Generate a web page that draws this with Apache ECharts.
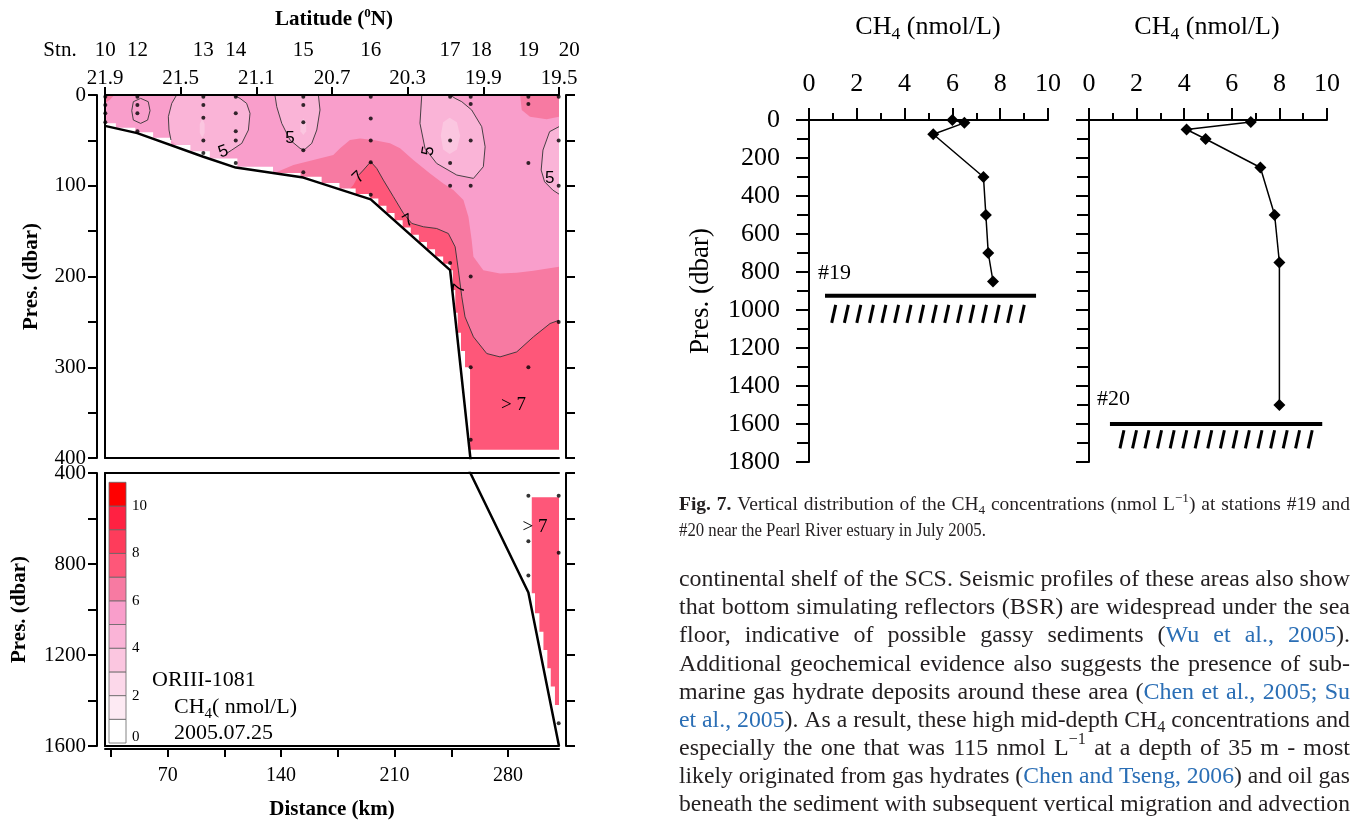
<!DOCTYPE html>
<html><head><meta charset="utf-8">
<script src="https://cdn.jsdelivr.net/npm/echarts@6/dist/echarts.min.js"></script>
<style>html,body{margin:0;padding:0;background:#fff}#c{width:1357px;height:820px}</style>
</head><body><div id="c"></div>
<script>
// ================= DATA =================
// Section (left): distance (km) vs pressure (dbar)
const KM_RANGE = [31.3, 311.5];
const latLabels = ['21.9','21.5','21.1','20.7','20.3','19.9','19.5'];
const stnNames = ['10','12','13','14','15','16','17','18','19','20'];
const stnKm    = [31.5, 51.3, 92, 112, 153.7, 195.3, 244.3, 257, 292.6, 311.3];
const stnDepths = [
  [2,11,20,30],
  [2,11,20,40],
  [2,11,25,50,64],
  [2,20,40,50,75],
  [2,11,30,61,85],
  [2,26,50,74,110],
  [2,50,75,100,185],
  [2,10,50,100,200,300,380],
  [2,10,75,300,500,700,850],
  [2,50,100,250,500,750,1500]
];
const topoKm   = [31.3, 51.2, 92, 112, 153.7, 195.3, 244.3, 256.8, 292.6, 311.5];
const topoPres = [34, 42, 68, 80, 91, 115, 193, 400, 925, 1600];
const distTicks  = [35,70,105,140,175,210,245,280];
const distLabels = [70,140,210,280];

// CH4 colour classes (nmol/L): class i covers [i, i+1)
const levelColors = ['#ffffff','#fdeaf3','#fcd8ea','#fbc6e0','#fab4d7','#f99ecb','#f77aa2','#fe5779','#fe3c5b','#ff2142','#ff0000'];
const colorbarLabels = [0,2,4,6,8,10];

// lower edge of gridded data (staircase) in upper panel
const fillFloor = [[31.3,31],[38,31],[38,36],[50,36],[50,41],[61,41],[61,47],[72,47],[72,55],[84,55],[84,62],[96,62],[96,70],[113,70],[113,79],[135,79],[135,86],[152,86],[152,90],[165,90],[165,97],[176,97],[176,103],[186,103],[186,109],[195,109],[195,114],[200,114],[200,122],[205,122],[205,130],[210,130],[210,138],[215,138],[215,146],[220,146],[220,154],[225,154],[225,162],[230,162],[230,170],[235,170],[235,178],[240,178],[240,186],[244.5,186],[244.5,193],[246,193],[246,215],[247.5,215],[247.5,240],[249,240],[249,262],[251,262],[251,282],[253.5,282],[253.5,300],[256.6,300],[256.6,391],[311.5,391]];

// contour lines (km, dbar)
const c5A_left  = [[75.5,0],[72.5,9.2],[70.4,23.9],[70.8,38.6],[72,49.6]];
const c5A_right = [[110.5,0],[114.6,3.7],[118.7,9.2],[120.8,20.2],[119.8,38.6],[115.7,53.3],[109.5,60.7],[106.4,64.3]];
const c5B = [[136.2,0],[137.3,12.9],[140.4,31.3],[145.5,49.6],[151.7,58.8],[154.1,60.7],[158.9,53.3],[162,38.6],[164,16.5],[163,0]];
const c5C = [[226.8,0],[225.7,31.3],[228.8,58.8],[236,75.4],[248.4,88.2],[258.7,91.9],[264.8,79],[265.9,57],[263.8,34.9],[257.6,16.5],[251.5,7.4],[247.4,3.7],[244.3,0]];
const c5D = [[311.5,34.9],[305.7,40.4],[301.6,60.7],[300.5,82.7],[302.6,95.6],[307.7,104.8],[311.5,109.2]];
const c5E = [[53.3,3.7],[58,7.4],[59.1,17.3],[57.6,27.6],[53.3,31.3],[48.8,27.6],[47.8,17.3],[48.8,7.4],[53.3,3.7]];
const c7Line = [[188,88],[190.8,82.7],[195.3,73.5],[199,80.9],[203.1,93.8],[209.3,112.1],[215.5,130.5],[220.6,141.5],[227.8,145.2],[236,147.1],[243.2,152.6],[247.4,167.3],[249.4,193],[251.5,222.4],[253.5,244.5],[258.7,266.5],[266.9,284.9],[275.1,288.6],[285.4,283.1],[295.7,266.5],[306,251.8],[311.5,248.2]];
const band6Top = [[131,95],[135.2,86.4],[147.6,77.2],[159.9,71.7],[172.2,66.2],[176.4,58.8],[182.5,49.6],[188.7,47.8],[196.9,49.6],[207.2,53.3],[213.4,58.8],[221.6,71.7],[231.9,86.4],[240.1,97.4],[246.3,104.8],[252.5,115.8],[255.6,134.2],[257.6,159.9],[258.7,178.3],[264.8,193],[275.1,196.7],[285.4,196],[295.7,193.8],[311.5,189.3]];
const spot13 = [[91.3,26],[92.8,32],[92.8,42],[91.3,47],[89.8,42],[89.8,32]];
const spot15 = [[153.7,26],[155.5,30],[155.5,40],[153.7,44],[151.9,40],[151.9,30]];
const spot17 = [[244,25],[248.5,30],[250.5,45],[248.5,60],[244,65],[240,60],[238.5,45],[240,30]];
const patch19 = [[287.5,0],[288.5,16.5],[293.6,23.9],[303.9,26.8],[311.5,23.9],[311.5,0]];
const patch10 = [[31.3,0],[37,0],[34.5,5],[31.3,9]];
// lower panel (>7) region
const deepLower = [[294.7,507],[311.5,507],[311.5,1420],[309,1420],[309,1339],[306.4,1339],[306.4,1258],[304.3,1258],[304.3,1178],[301.9,1178],[301.9,1098],[299.4,1098],[299.4,1017],[296.7,1017],[296.7,929],[294.7,929]];

const contourLabelText = ['5','5','5','5','7','7','7'];
const contourLabelKm   = [104.3,145.5,230.9,305.7,187.7,218.5,250.1];
const contourLabelPres = [62.5,47.8,61.8,91.9,90.8,138.6,213.2];
const gtLabelKm   = [283.4, 296.7];
const gtLabelPres = [341.9, 636];

// Profiles (right)
const p19Conc = [6.0, 6.5, 5.2, 7.3, 7.4, 7.5, 7.7];
const p19Pres = [0, 15, 75, 300, 500, 700, 850];
const p20Conc = [6.8, 4.1, 4.9, 7.2, 7.8, 8.0, 8.0];
const p20Pres = [10, 50, 100, 250, 500, 750, 1500];
const seabed19 = {pres: 925, from: 0.67, to: 9.5};
const seabed20 = {pres: 1600, from: 0.88, to: 9.8};
const hatch19 = [0.95,1.48,2.0,2.53,3.05,3.58,4.1,4.63,5.16,5.68,6.21,6.73,7.26,7.79,8.31,8.84];
const hatch20 = [1.3,1.83,2.35,2.88,3.41,3.94,4.46,4.99,5.52,6.05,6.57,7.1,7.63,8.16,8.68,9.21];
const hatch19Pres = [1068, 973];
const hatch20Pres = [1728, 1633];

// Text
const captionLines = [
  '{b|Fig. 7.} Vertical distribution of the CH{sub|4} concentrations (nmol L{sup|−1}) at stations #19 and',
  '#20 near the Pearl River estuary in July 2005.'
];
const paragraphLines = [
  'continental shelf of the SCS. Seismic profiles of these areas also show',
  'that bottom simulating reflectors (BSR) are widespread under the sea',
  'floor, indicative of possible gassy sediments ({a|Wu et al., 2005}).',
  'Additional geochemical evidence also suggests the presence of sub-',
  'marine gas hydrate deposits around these area ({a|Chen et al., 2005; Su}',
  '{a|et al., 2005}). As a result, these high mid-depth CH{sub|4} concentrations and',
  'especially the one that was 115 nmol L{sup|−1} at a depth of 35 m - most',
  'likely originated from gas hydrates ({a|Chen and Tseng, 2006}) and oil gas',
  'beneath the sediment with subsequent vertical migration and advection'
];

// ================= STYLE / BUILD =================
const SERIF = '"Liberation Serif", "Times New Roman", serif';
const SANS = '"Liberation Sans", Arial, sans-serif';
const BLACK = '#000';
const TXT = '#231f20';
const LINK = '#2a6eb5';
const contourLabelRot = [20, 0, 80, 0, 45, 30, 80];
const stnLabelAlign = ['center','center','center','center','center','center','center','left','center','left'];

const zip = (a, b) => a.map((v, i) => [v, b[i]]);

// ---- text layout engine (measure + justify) ----
const mctx = document.createElement('canvas').getContext('2d');
const KS = {
  n:    {w:'normal', f:1,    dy:0},
  b:    {w:'bold',   f:1,    dy:0},
  a:    {w:'normal', f:1,    dy:0, c:LINK},
  sub:  {w:'normal', f:0.68, dy:0.3},
  sup:  {w:'normal', f:0.68, dy:-0.35},
  bsup: {w:'bold',   f:0.62, dy:-0.3}
};
function fontStr(fs, w) { return w + ' ' + fs + 'px ' + SERIF; }
function measure(t, fs, w) { mctx.font = fontStr(fs, w); return mctx.measureText(t).width; }
function parseLine(str) {
  const re = /\{(\w+)\|([^}]*)\}|([^{]+)/g; const segs = []; let m;
  while ((m = re.exec(str))) { if (m[1]) segs.push({k:m[1], t:m[2]}); else segs.push({k:'n', t:m[3]}); }
  const words = []; let cur = [];
  segs.forEach(s => {
    s.t.split(' ').forEach((p, i) => {
      if (i > 0) { if (cur.length) words.push(cur); cur = []; }
      if (p) cur.push({t:p, k:s.k});
    });
  });
  if (cur.length) words.push(cur);
  return words;
}
function textBlock(lines, o) {
  const els = [];
  lines.forEach((line, li) => {
    const words = parseLine(line);
    const pw = words.map(w => w.map(p => { const st = KS[p.k]; return measure(p.t, o.size*st.f, st.w); }));
    const ww = pw.map(a => a.reduce((s, v) => s + v, 0));
    const sum = ww.reduce((s, v) => s + v, 0);
    const sp = measure(' ', o.size, 'normal');
    const natural = sum + sp*(words.length - 1);
    let scale = 1, gap = sp;
    const justify = o.align === 'justify' && !(o.lastLeft && li === lines.length - 1);
    if (o.align !== 'center' && natural > o.width) scale = o.width / natural;
    else if (justify && words.length > 1) gap = (o.width - sum) / (words.length - 1);
    if (o.condense && !justify && o.align !== 'center') scale = Math.min(scale, o.condense);
    let x = o.align === 'center' ? o.x - natural/2 : o.x;
    const y = o.y + li*(o.lh || 0);
    words.forEach((w, wi) => {
      w.forEach((p, pi) => {
        const st = KS[p.k]; const fs = o.size*st.f;
        els.push({type:'text', x:x, y:y + st.dy*o.size, scaleX:scale, silent:true, z:20,
          style:{text:p.t, fontSize:fs, fontFamily:SERIF, fontWeight:st.w, fill:st.c || o.color || TXT,
                 align:'left', verticalAlign:'middle', textAlign:'left', textVerticalAlign:'middle'}});
        x += pw[wi][pi]*scale;
      });
      x += gap*scale;
    });
  });
  return els;
}

// ---- polygons for section ----
const lightA = c5A_left.concat([[85,72],[100,72]], c5A_right.slice().reverse());
const band6 = band6Top.concat([[311.5,400],[131,400]]);
const deep7 = [[178,112],[184.6,99.3]].concat(c7Line, [[311.5,400],[178,400]]);
const baseWater = [[KM_RANGE[0],0],[KM_RANGE[1],0],[KM_RANGE[1],400],[KM_RANGE[0],400]];
const seabedWhite = fillFloor.concat([[330,391],[330,420],[20,420],[20,fillFloor[0][1]]]);

const upperFills = [
  {pts:baseWater, c:levelColors[5]},
  {pts:band6, c:levelColors[6]},
  {pts:deep7, c:levelColors[7]},
  {pts:lightA, c:levelColors[4]},
  {pts:c5B, c:levelColors[4]},
  {pts:c5C, c:levelColors[4]},
  {pts:c5D, c:levelColors[4]},
  {pts:spot13, c:levelColors[3]},
  {pts:spot15, c:levelColors[3]},
  {pts:spot17, c:levelColors[3]},
  {pts:patch19, c:levelColors[6]},
  {pts:patch10, c:levelColors[6]}
];
const lowerFills = [{pts:deepLower, c:levelColors[7]}];
const contourLines = [c5A_left, c5A_right, c5B, c5C, c5D, c5E, c7Line];

function fillSeries(list, xi, yi, z) {
  return {type:'custom', xAxisIndex:xi, yAxisIndex:yi, z:z, clip:true, silent:true,
    data:list.map(r => r.pts[0]),
    renderItem:(params, api) => {
      const r = list[params.dataIndex];
      return {type:'polygon', shape:{points:r.pts.map(p => api.coord(p))}, style:{fill:r.c, stroke:null, lineWidth:0}};
    }};
}
function lineSeriesCustom(list, xi, yi, z, color, width) {
  return {type:'custom', xAxisIndex:xi, yAxisIndex:yi, z:z, clip:true, silent:true,
    data:list.map(r => r[0]),
    renderItem:(params, api) => ({type:'polyline', shape:{points:list[params.dataIndex].map(p => api.coord(p))},
      style:{stroke:color, lineWidth:width, fill:null}})};
}
function textSeries(xs, ys, texts, xi, yi, z, opt) {
  return {type:'custom', xAxisIndex:xi, yAxisIndex:yi, z:z, clip:false, silent:true,
    data:zip(xs, ys),
    renderItem:(params, api) => {
      const i = params.dataIndex;
      const c = api.coord([api.value(0), api.value(1)]);
      const al = opt.align ? opt.align[i] : 'center';
      return {type:'text', x:c[0], y:c[1] + (opt.dy || 0), rotation:(opt.rot ? opt.rot[i] : 0)*Math.PI/180,
        style:{text:texts[i], fontSize:opt.size, fontFamily:opt.family || SERIF, fill:BLACK,
          align:al, verticalAlign:'middle', textAlign:al, textVerticalAlign:'middle'}};
    }};
}
function hatchSeries(xs, pres, xi, yi) {
  return {type:'custom', xAxisIndex:xi, yAxisIndex:yi, z:5, clip:false, silent:true,
    data:xs.map(x => [x, pres[0]]),
    renderItem:(params, api) => {
      const a = api.coord([api.value(0), pres[0]]);
      const b = api.coord([api.value(0), pres[1]]);
      return {type:'line', shape:{x1:a[0], y1:a[1], x2:b[0] + 4, y2:b[1]}, style:{stroke:BLACK, lineWidth:3}};
    }};
}

const dotsUpper = [], dotsLower = [];
stnKm.forEach((k, i) => stnDepths[i].forEach(p => (p <= 400 ? dotsUpper : dotsLower).push([k, p])));
const topo = zip(topoKm, topoPres);

const axisLine2 = {show:true, onZero:false, lineStyle:{color:BLACK, width:2}};
const noTick = {show:false}, noLabel = {show:false}, noSplit = {show:false};
function frameAxis(gi, pos, min, max, inverse) {
  return {gridIndex:gi, type:'value', position:pos, min:min, max:max, inverse:!!inverse, z:10,
    axisLine:axisLine2, axisTick:noTick, axisLabel:noLabel, splitLine:noSplit};
}
const lab = (size) => ({fontSize:size, fontFamily:SERIF, color:BLACK});
const plain = v => String(v);

const option = {
  animation:false,
  backgroundColor:'#fff',
  textStyle:{fontFamily:SERIF, color:BLACK},
  grid:[
    {left:105, top:95, width:454, height:363, containLabel:false, outerBoundsMode:'none'},
    {left:105, top:473, width:454, height:273, containLabel:false, outerBoundsMode:'none'},
    {left:809, top:120, width:239, height:342, containLabel:false, outerBoundsMode:'none'},
    {left:1089, top:120, width:238, height:342, containLabel:false, outerBoundsMode:'none'}
  ],
  xAxis:[
    frameAxis(0, 'bottom', KM_RANGE[0], KM_RANGE[1]),
    {gridIndex:0, type:'value', position:'top', min:0, max:latLabels.length - 1, interval:1, z:10,
      axisLine:axisLine2, axisTick:{show:true, length:8, lineStyle:{color:BLACK, width:2}},
      axisLabel:Object.assign({formatter:v => latLabels[Math.round(v)] || '', margin:6}, lab(21)), splitLine:noSplit},
    frameAxis(1, 'top', KM_RANGE[0], KM_RANGE[1]),
    frameAxis(1, 'bottom', KM_RANGE[0], KM_RANGE[1]),
    {gridIndex:1, type:'value', position:'bottom', offset:3, min:KM_RANGE[0], max:KM_RANGE[1], z:10,
      axisLine:axisLine2,
      axisTick:{show:true, customValues:distTicks, length:8, lineStyle:{color:BLACK, width:2}},
      axisLabel:Object.assign({customValues:distLabels, formatter:v => distLabels.indexOf(v) >= 0 ? String(v) : '', margin:17}, lab(20)),
      splitLine:noSplit,
      name:'Distance (km)', nameLocation:'middle', nameGap:50,
      nameTextStyle:{fontSize:21, fontWeight:'bold', fontFamily:SERIF, color:BLACK}},
    {gridIndex:2, type:'value', position:'top', min:0, max:10, interval:2, z:10,
      axisLine:axisLine2, axisTick:{show:true, length:12, lineStyle:{color:BLACK, width:2}},
      minorTick:{show:true, splitNumber:2, length:7, lineStyle:{color:BLACK, width:2}},
      axisLabel:Object.assign({margin:23, formatter:plain}, lab(26)), splitLine:noSplit, minorSplitLine:noSplit},
    {gridIndex:3, type:'value', position:'top', min:0, max:10, interval:2, z:10,
      axisLine:axisLine2, axisTick:{show:true, length:12, lineStyle:{color:BLACK, width:2}},
      minorTick:{show:true, splitNumber:2, length:7, lineStyle:{color:BLACK, width:2}},
      axisLabel:Object.assign({margin:23, formatter:plain}, lab(26)), splitLine:noSplit, minorSplitLine:noSplit}
  ],
  yAxis:[
    frameAxis(0, 'left', 0, 400, true),
    {gridIndex:0, type:'value', position:'left', offset:8, min:0, max:400, interval:50, inverse:true, z:10,
      axisLine:axisLine2, axisTick:{show:true, length:9, lineStyle:{color:BLACK, width:2}},
      axisLabel:Object.assign({formatter:v => v % 100 === 0 ? String(v) : '', margin:11}, lab(21)), splitLine:noSplit,
      name:'Pres. (dbar)', nameLocation:'middle', nameGap:55, nameRotate:90,
      nameTextStyle:{fontSize:21, fontWeight:'bold', fontFamily:SERIF, color:BLACK}},
    {gridIndex:0, type:'value', position:'right', offset:7, min:0, max:400, interval:50, inverse:true, z:10,
      axisLine:axisLine2, axisTick:{show:true, length:9, lineStyle:{color:BLACK, width:2}},
      axisLabel:noLabel, splitLine:noSplit},
    frameAxis(1, 'left', 400, 1600, true),
    {gridIndex:1, type:'value', position:'left', offset:8, min:400, max:1600, interval:200, inverse:true, z:10,
      axisLine:axisLine2, axisTick:{show:true, length:9, lineStyle:{color:BLACK, width:2}},
      axisLabel:Object.assign({formatter:v => v % 400 === 0 ? String(v) : '', margin:11}, lab(21)), splitLine:noSplit,
      name:'Pres. (dbar)', nameLocation:'middle', nameGap:67, nameRotate:90,
      nameTextStyle:{fontSize:21, fontWeight:'bold', fontFamily:SERIF, color:BLACK}},
    {gridIndex:1, type:'value', position:'right', offset:7, min:400, max:1600, interval:200, inverse:true, z:10,
      axisLine:axisLine2, axisTick:{show:true, length:9, lineStyle:{color:BLACK, width:2}},
      axisLabel:noLabel, splitLine:noSplit},
    {gridIndex:2, type:'value', position:'left', min:0, max:1800, interval:200, inverse:true, z:10,
      axisLine:axisLine2, axisTick:{show:true, length:13, lineStyle:{color:BLACK, width:2}},
      minorTick:{show:true, splitNumber:2, length:12, lineStyle:{color:BLACK, width:2}},
      axisLabel:Object.assign({margin:29, formatter:plain}, lab(26)), splitLine:noSplit, minorSplitLine:noSplit,
      name:'Pres. (dbar)', nameLocation:'middle', nameGap:95, nameRotate:90,
      nameTextStyle:{fontSize:27, fontFamily:SERIF, color:BLACK}},
    {gridIndex:3, type:'value', position:'left', min:0, max:1800, interval:200, inverse:true, z:10,
      axisLine:axisLine2, axisTick:{show:true, length:13, lineStyle:{color:BLACK, width:2}},
      minorTick:{show:true, splitNumber:2, length:12, lineStyle:{color:BLACK, width:2}},
      axisLabel:noLabel, splitLine:noSplit, minorSplitLine:noSplit}
  ],
  series:[
    fillSeries(upperFills, 0, 0, 2),
    {type:'custom', xAxisIndex:0, yAxisIndex:0, z:3, clip:true, silent:true, data:[seabedWhite[0]],
      renderItem:(p, api) => ({type:'polygon', shape:{points:seabedWhite.map(q => api.coord(q))}, style:{fill:'#fff', stroke:null}})},
    lineSeriesCustom(contourLines, 0, 0, 4, '#333', 0.9),
    {type:'line', xAxisIndex:0, yAxisIndex:0, data:topo, symbol:'none', z:5, clip:true, silent:true,
      lineStyle:{color:BLACK, width:2.5}},
    {type:'scatter', xAxisIndex:0, yAxisIndex:0, data:dotsUpper, symbol:'circle', symbolSize:4, z:6, silent:true,
      itemStyle:{color:BLACK}},
    textSeries(contourLabelKm, contourLabelPres, contourLabelText, 0, 0, 7, {size:17, rot:contourLabelRot, family:SANS}),
    textSeries([gtLabelKm[0]], [gtLabelPres[0]], ['> 7'], 0, 0, 7, {size:19}),
    textSeries(stnKm, stnKm.map(() => 0), stnNames, 0, 0, 7, {size:21, dy:-45, align:stnLabelAlign}),
    // lower panel
    fillSeries(lowerFills, 3, 3, 2),
    {type:'line', xAxisIndex:3, yAxisIndex:3, data:topo, symbol:'none', z:5, clip:true, silent:true,
      lineStyle:{color:BLACK, width:2.5}},
    {type:'scatter', xAxisIndex:3, yAxisIndex:3, data:dotsLower, symbol:'circle', symbolSize:4, z:6, silent:true,
      itemStyle:{color:BLACK}},
    textSeries([gtLabelKm[1]], [gtLabelPres[1]], ['> 7'], 3, 3, 7, {size:19}),
    // profile #19
    {type:'line', xAxisIndex:5, yAxisIndex:6, data:zip(p19Conc, p19Pres), symbol:'diamond', symbolSize:12, clip:false, z:6,
      itemStyle:{color:BLACK}, lineStyle:{color:BLACK, width:1.5}},
    {type:'line', xAxisIndex:5, yAxisIndex:6, data:[[seabed19.from, seabed19.pres],[seabed19.to, seabed19.pres]], symbol:'none', clip:false, z:5,
      lineStyle:{color:BLACK, width:4}},
    hatchSeries(hatch19, hatch19Pres, 5, 6),
    // profile #20
    {type:'line', xAxisIndex:6, yAxisIndex:7, data:zip(p20Conc, p20Pres), symbol:'diamond', symbolSize:12, clip:false, z:6,
      itemStyle:{color:BLACK}, lineStyle:{color:BLACK, width:1.5}},
    {type:'line', xAxisIndex:6, yAxisIndex:7, data:[[seabed20.from, seabed20.pres],[seabed20.to, seabed20.pres]], symbol:'none', clip:false, z:5,
      lineStyle:{color:BLACK, width:4}},
    hatchSeries(hatch20, hatch20Pres, 6, 7)
  ]
};

// ---- graphic elements: titles, colour bar, notes, caption, paragraph ----
const g = [];
g.push(...textBlock(['{b|Latitude (}{bsup|0}{b|N)}'], {x:334, y:20, size:21, align:'center', color:BLACK}));
g.push({type:'text', x:60, y:50, silent:true, style:{text:'Stn.', fontSize:21, fontFamily:SERIF, fill:BLACK, align:'center', verticalAlign:'middle', textAlign:'center', textVerticalAlign:'middle'}});
// colour bar
const cbBottom = 743, cbStep = 23.7;
levelColors.forEach((c, i) => {
  g.push({type:'rect', silent:true, z:15, shape:{x:109, y:cbBottom - (i + 1)*cbStep, width:17, height:cbStep},
    style:{fill:c, stroke:'#666', lineWidth:0.8}});
});
colorbarLabels.forEach(v => {
  g.push({type:'text', x:132, y:Math.min(cbBottom - v*cbStep, cbBottom - 6), silent:true, z:15,
    style:{text:String(v), fontSize:15, fontFamily:SERIF, fill:BLACK, align:'left', verticalAlign:'middle', textAlign:'left', textVerticalAlign:'middle'}});
});
g.push({type:'text', x:152, y:680, silent:true, z:15, style:{text:'ORIII-1081', fontSize:22, fontFamily:SERIF, fill:BLACK, align:'left', verticalAlign:'middle', textAlign:'left', textVerticalAlign:'middle'}});
g.push(...textBlock(['CH{sub|4}( nmol/L)'], {x:174, y:707, size:22, align:'left', width:400, color:BLACK}));
g.push({type:'text', x:174, y:733, silent:true, z:15, style:{text:'2005.07.25', fontSize:22, fontFamily:SERIF, fill:BLACK, align:'left', verticalAlign:'middle', textAlign:'left', textVerticalAlign:'middle'}});
// profile titles
g.push(...textBlock(['CH{sub|4} (nmol/L)'], {x:928, y:27, size:26, align:'center', color:BLACK}));
g.push(...textBlock(['CH{sub|4} (nmol/L)'], {x:1207, y:27, size:26, align:'center', color:BLACK}));
g.push({type:'text', x:818, y:273, silent:true, style:{text:'#19', fontSize:22, fontFamily:SERIF, fill:BLACK, align:'left', verticalAlign:'middle', textAlign:'left', textVerticalAlign:'middle'}});
g.push({type:'text', x:1097, y:399, silent:true, style:{text:'#20', fontSize:22, fontFamily:SERIF, fill:BLACK, align:'left', verticalAlign:'middle', textAlign:'left', textVerticalAlign:'middle'}});
// caption & paragraph
g.push(...textBlock(captionLines, {x:679, y:505, lh:26, width:671, size:19.5, align:'justify', lastLeft:true, condense:0.86}));
g.push(...textBlock(paragraphLines, {x:679, y:580, lh:28.1, width:671, size:24, align:'justify'}));
option.graphic = {elements:g};

const chart = echarts.init(document.getElementById('c'), null, {renderer:'canvas', width:1357, height:820});
chart.setOption(option);
</script>
</body></html>
